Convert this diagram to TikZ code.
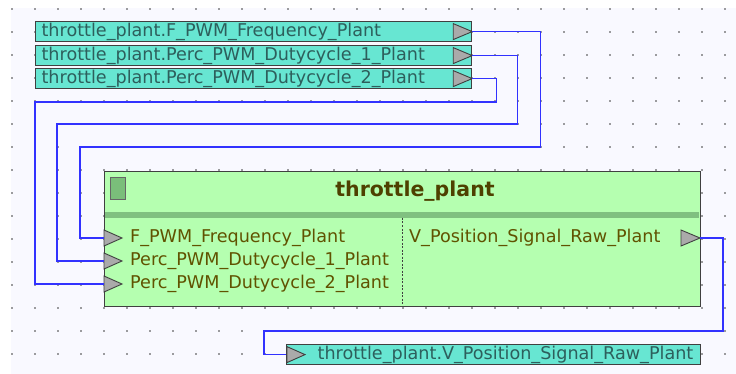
\documentclass[tikz,border=0pt]{standalone}
\usepackage{fontspec}
\setmainfont{DejaVu Sans}
\usepackage{xcolor}
\usetikzlibrary{positioning, calc}
\definecolor{canvasBg}{RGB}{249,249,255}
\definecolor{gridDot}{RGB}{60,60,60}
\definecolor{sigFill}{RGB}{103,230,210}
\definecolor{sigText}{RGB}{45,95,92}
\definecolor{edgeInk}{RGB}{64,64,64}
\definecolor{portGray}{RGB}{170,170,170}
\definecolor{plantFill}{RGB}{181,255,176}
\definecolor{plantBand}{RGB}{128,192,128}
\definecolor{plantIcon}{RGB}{122,190,122}
\definecolor{plantTitle}{RGB}{78,64,0}
\definecolor{plantText}{RGB}{96,82,0}
\definecolor{wireBlue}{RGB}{50,50,255}

\begin{document}
\begin{tikzpicture}[x=1pt, y=-1pt,
      sigbox/.style={draw=edgeInk, fill=sigFill, line width=1.2pt, anchor=north west, minimum height=20pt,
      inner ysep=1pt, inner xsep=6pt, text height=13.5pt, text depth=4.5pt, align=left,
      font=\fontsize{17.6}{19}\selectfont, text=sigText},
      porttri/.style={draw=edgeInk, fill=portGray, line width=0.9pt, line join=miter},
      lbl/.style={anchor=west, inner sep=0pt, font=\fontsize{17.6}{19}\selectfont, text=plantText},
      wire/.style={draw=wireBlue, line width=1.3pt}
    ]
    \useasboundingbox (0,0) rectangle (736,374);
    \fill[white] (0,0) rectangle (736,374);
    \fill[canvasBg] (11,8) rectangle (736,374);
    \foreach \i in {0,...,31} {
      \foreach \j in {0,...,15} {
        \fill[gridDot] (12+23*\i,9+23*\j) circle (0.85);
      }
    }

    % signal sources
    \node[sigbox, text width=424pt] (srcF) at (35,21) {throttle\_plant.F\_PWM\_Frequency\_Plant};
    \node[sigbox, text width=424pt] (srcA) at (35,45) {throttle\_plant.Perc\_PWM\_Dutycycle\_1\_Plant};
    \node[sigbox, text width=424pt] (srcB) at (35,68) {throttle\_plant.Perc\_PWM\_Dutycycle\_2\_Plant};
    \foreach \s in {srcF,srcA,srcB} {
      \coordinate (\s-out) at (\s.east);
      \draw[porttri] (\s-out) -- ++(-19,-8) -- ++(0,16) -- cycle;
    }

    % plant block
    \node[draw=edgeInk, fill=plantFill, line width=1.3pt, anchor=north west, minimum width=596pt,
      minimum height=135pt, inner sep=0pt] (plant) at (104,171) {};
    \fill[plantBand] (104.7,212) rectangle (699.3,218);
    \draw[draw=gray!80!black, fill=plantIcon, line width=0.8pt] (110,177) rectangle (125,199);
    \node[font=\fontsize{20.5}{22}\selectfont\bfseries, text=plantTitle] (title) at (415,191) {throttle\_plant};
    \draw[edgeInk, dashed, line width=0.8pt, dash pattern=on 2pt off 1.5pt] (402,218) -- (402,305.5);

    \coordinate (inF) at (104,238);
    \coordinate (inA) at (104,261);
    \coordinate (inB) at (104,284);
    \foreach \p in {inF,inA,inB} {
      \draw[porttri] (\p) ++(0,-8) -- ++(18,8) -- ++(-18,8) -- cycle;
    }
    \node[lbl] (labF) at (130,238) {F\_PWM\_Frequency\_Plant};
    \node[lbl] (labA) at (130,261) {Perc\_PWM\_Dutycycle\_1\_Plant};
    \node[lbl] (labB) at (130,284) {Perc\_PWM\_Dutycycle\_2\_Plant};
    \coordinate (outV) at (700,238);
    \draw[porttri] (outV) -- ++(-19,-8) -- ++(0,16) -- cycle;
    \node[lbl] (labV) at (409,238) {V\_Position\_Signal\_Raw\_Plant};

    % signal sink
    \node[sigbox, inner xsep=0pt, text width=414pt] (sinkV) at (286,344)
      {\hspace{31pt}throttle\_plant.V\_Position\_Signal\_Raw\_Plant};
    \coordinate (sinkV-in) at (sinkV.west);
    \draw[porttri] (sinkV-in) ++(1,-8) -- ++(18,8) -- ++(-18,8) -- cycle;

    % wires
    \draw[wire] (srcF-out) -- ++(68,0) |- (80,147) |- (inF);
    \draw[wire] (srcA-out) -- ++(45,0) |- (57,124) |- (inA);
    \draw[wire] (srcB-out) -- ++(24,0) |- (35,102) |- (inB);
    \draw[wire] (outV) -- ++(23,0) |- (264,331) |- (sinkV-in);
  \end{tikzpicture}
\end{document}
